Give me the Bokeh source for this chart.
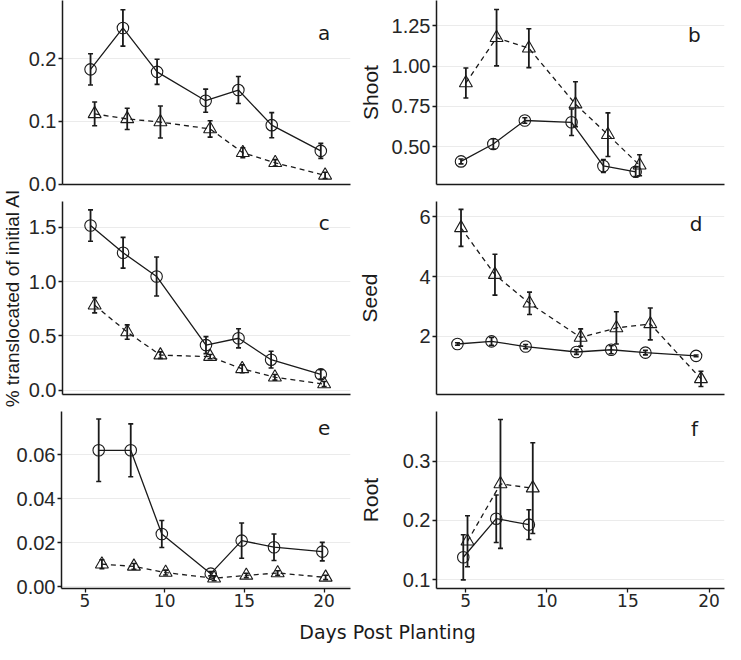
from bokeh.plotting import figure
from bokeh.layouts import column, row
from bokeh.models import Range1d, FixedTicker, Label
from bokeh.embed import file_html
from bokeh.resources import INLINE
from bokeh.core.properties import value

# ---------------- data ----------------
# panel a
a_circle_day = [5.29, 7.33, 9.48, 12.54, 14.60, 16.70, 19.79]
a_circle_val = [0.183, 0.249, 0.179, 0.133, 0.150, 0.094, 0.053]
a_circle_se = [0.025, 0.029, 0.020, 0.0185, 0.0215, 0.020, 0.012]
a_tri_day = [5.55, 7.60, 9.69, 12.82, 14.88, 16.92, 20.06]
a_tri_val = [0.112, 0.104, 0.099, 0.088, 0.050, 0.034, 0.014]
a_tri_se = [0.019, 0.017, 0.0255, 0.013, 0.008, 0.005, 0.005]

# panel b (Shoot)
b_circle_day = [4.72, 6.71, 8.65, 11.53, 13.49, 15.48]
b_circle_val = [0.410, 0.518, 0.663, 0.652, 0.382, 0.346]
b_circle_se = [0.015, 0.032, 0.017, 0.082, 0.040, 0.030]
b_tri_day = [5.02, 6.91, 8.90, 11.77, 13.77, 15.72]
b_tri_val = [0.895, 1.175, 1.110, 0.764, 0.575, 0.386]
b_tri_se = [0.093, 0.174, 0.120, 0.139, 0.135, 0.065]

# panel c
c_circle_day = [5.29, 7.34, 9.45, 12.56, 14.61, 16.66, 19.79]
c_circle_val = [1.515, 1.265, 1.047, 0.416, 0.479, 0.282, 0.147]
c_circle_se = [0.144, 0.141, 0.179, 0.078, 0.088, 0.077, 0.044]
c_tri_day = [5.55, 7.60, 9.69, 12.82, 14.84, 16.90, 20.00]
c_tri_val = [0.782, 0.536, 0.324, 0.310, 0.198, 0.120, 0.058]
c_tri_se = [0.070, 0.066, 0.030, 0.020, 0.036, 0.026, 0.023]

# panel d (Seed)
d_circle_day = [4.50, 6.60, 8.70, 11.83, 13.97, 16.08, 19.20]
d_circle_val = [1.743, 1.830, 1.657, 1.474, 1.550, 1.453, 1.346]
d_circle_se = [0.040, 0.130, 0.070, 0.080, 0.135, 0.075, 0.030]
d_tri_day = [4.72, 6.81, 8.94, 12.09, 14.29, 16.38, 19.50]
d_tri_val = [5.630, 4.065, 3.105, 1.960, 2.280, 2.415, 0.575]
d_tri_se = [0.620, 0.685, 0.375, 0.290, 0.540, 0.535, 0.255]

# panel e
e_circle_day = [5.86, 7.87, 9.82, 12.89, 14.83, 16.86, 19.89]
e_circle_val = [0.062, 0.062, 0.024, 0.006, 0.021, 0.018, 0.016]
e_circle_se = [0.0142, 0.012, 0.0061, 0.001, 0.008, 0.006, 0.0042]
e_tri_day = [6.06, 8.07, 10.06, 13.10, 15.12, 17.09, 20.10]
e_tri_val = [0.0103, 0.0093, 0.0065, 0.0039, 0.0052, 0.0063, 0.0043]
e_tri_se = [0.0020, 0.0013, 0.0011, 0.0011, 0.0010, 0.0010, 0.0010]

# panel f (Root)
f_circle_day = [4.86, 6.89, 8.90]
f_circle_val = [0.138, 0.203, 0.193]
f_circle_se = [0.038, 0.040, 0.025]
f_tri_day = [5.12, 7.15, 9.14]
f_tri_val = [0.165, 0.2615, 0.2545]
f_tri_se = [0.043, 0.1085, 0.0765]

# tick values / labels
x_ticks = [5, 10, 15, 20]
x_tick_labels = ["5", "10", "15", "20"]
a_ticks = [0.0, 0.1, 0.2]
a_tick_labels = ["0.0", "0.1", "0.2"]
b_ticks = [0.5, 0.75, 1.0, 1.25]
b_tick_labels = ["0.50", "0.75", "1.00", "1.25"]
c_ticks = [0.0, 0.5, 1.0, 1.5]
c_tick_labels = ["0.0", "0.5", "1.0", "1.5"]
d_ticks = [2, 4, 6]
d_tick_labels = ["2", "4", "6"]
e_ticks = [0.0, 0.02, 0.04, 0.06]
e_tick_labels = ["0.00", "0.02", "0.04", "0.06"]
f_ticks = [0.1, 0.2, 0.3]
f_tick_labels = ["0.1", "0.2", "0.3"]

row_titles = ["Shoot", "Seed", "Root"]
y_title = "% translocated of initial AI"
x_title = "Days Post Planting"

# ---------------- layout / styling ----------------
INK = "#1a1a1a"
LEFT_X = (3.525, 21.66)
RIGHT_X = (3.21, 20.95)
TITLE_W = 25

# (width, height, border_left, border_right, border_top, border_bottom)
SPEC = {
    "a": (330, 196, 36, 5, 0, 12),
    "c": (330, 214, 36, 5, 5, 16),
    "e": (355, 204, 61, 5, 1, 26),
    "b": (370, 193, 79, 1, 0, 9),
    "d": (370, 211, 79, 1, 8, 10),
    "f": (370, 210, 79, 1, 7, 26),
}

PANELS = {
    "a": dict(c=(a_circle_day, a_circle_val, a_circle_se), t=(a_tri_day, a_tri_val, a_tri_se),
              yr=(-0.0006, 0.2928), ticks=a_ticks, tl=a_tick_labels, lab=(20.0, 0.2405),
              title=None, stand=0, bottom=False, xr=LEFT_X),
    "b": dict(c=(b_circle_day, b_circle_val, b_circle_se), t=(b_tri_day, b_tri_val, b_tri_se),
              yr=(0.2673, 1.405), ticks=b_ticks, tl=b_tick_labels, lab=(19.1, 1.19),
              title=row_titles[0], stand=7, bottom=False, xr=RIGHT_X),
    "c": dict(c=(c_circle_day, c_circle_val, c_circle_se), t=(c_tri_day, c_tri_val, c_tri_se),
              yr=(-0.038, 1.736), ticks=c_ticks, tl=c_tick_labels, lab=(20.0, 1.538),
              title=None, stand=0, bottom=False, xr=LEFT_X),
    "d": dict(c=(d_circle_day, d_circle_val, d_circle_se), t=(d_tri_day, d_tri_val, d_tri_se),
              yr=(0.0514, 6.514), ticks=d_ticks, tl=d_tick_labels, lab=(19.2, 5.76),
              title=row_titles[1], stand=35, bottom=False, xr=RIGHT_X),
    "e": dict(c=(e_circle_day, e_circle_val, e_circle_se), t=(e_tri_day, e_tri_val, e_tri_se),
              yr=(-0.00074, 0.0796), ticks=e_ticks, tl=e_tick_labels, lab=(20.0, 0.072),
              title=None, stand=0, bottom=True, xr=LEFT_X),
    "f": dict(c=(f_circle_day, f_circle_val, f_circle_se), t=(f_tri_day, f_tri_val, f_tri_se),
              yr=(0.0854, 0.3836), ticks=f_ticks, tl=f_tick_labels, lab=(19.1, 0.354),
              title=row_titles[2], stand=18, bottom=True, xr=RIGHT_X),
}


def add_series(p, days, vals, ses, marker, dash):
    lo = [v - s for v, s in zip(vals, ses)]
    hi = [v + s for v, s in zip(vals, ses)]
    p.line(days, vals, line_color=INK, line_width=1.3, line_dash=dash)
    p.segment(x0=days, y0=lo, x1=days, y1=hi, line_color=INK, line_width=1.8)
    p.scatter(days, lo, marker="dash", size=5, line_color=INK, line_width=1.6)
    p.scatter(days, hi, marker="dash", size=5, line_color=INK, line_width=1.6)
    if marker == "circle":
        p.scatter(days, vals, marker="circle", size=11.5, line_color=INK,
                  line_width=1.1, fill_alpha=0)
    else:
        p.scatter(days, vals, marker="triangle", size=13, line_color=INK,
                  line_width=1.1, fill_alpha=0)


def make_panel(key):
    cfg = PANELS[key]
    w, h, bl, br, bt, bb = SPEC[key]
    p = figure(width=w, height=h, title=None,
               x_range=Range1d(*cfg["xr"]), y_range=Range1d(*cfg["yr"]),
               toolbar_location=None, output_backend="svg",
               min_border_left=bl, min_border_right=br,
               min_border_top=bt, min_border_bottom=bb)
    p.outline_line_color = None
    p.xgrid.grid_line_color = None
    p.ygrid.grid_line_color = "#ebebeb"
    p.ygrid.grid_line_width = 1
    p.ygrid.ticker = FixedTicker(ticks=cfg["ticks"])

    yax = p.yaxis[0]
    yax.ticker = FixedTicker(ticks=cfg["ticks"])
    yax.major_label_overrides = {t: s for t, s in zip(cfg["ticks"], cfg["tl"])}
    yax.axis_line_color = INK
    yax.axis_line_width = 1.5
    yax.major_tick_line_color = INK
    yax.major_tick_line_width = 1.3
    yax.major_tick_out = 4
    yax.major_tick_in = 0
    yax.minor_tick_line_color = None
    yax.major_label_standoff = 2
    yax.major_label_text_font = "Liberation Sans"
    yax.major_label_text_font_size = "20px"
    yax.major_label_text_color = "#262626"
    if cfg["title"]:
        yax.axis_label = cfg["title"]
        yax.axis_label_text_font = "Liberation Sans"
        yax.axis_label_text_font_size = "21px"
        yax.axis_label_text_font_style = "normal"
        yax.axis_label_text_color = "#1a1a1a"
        yax.axis_label_standoff = cfg["stand"]

    xax = p.xaxis[0]
    xax.axis_line_color = INK
    xax.axis_line_width = 1.5
    xax.minor_tick_line_color = None
    if cfg["bottom"]:
        xax.ticker = FixedTicker(ticks=x_ticks)
        xax.major_label_overrides = {t: s for t, s in zip(x_ticks, x_tick_labels)}
        xax.major_tick_line_color = INK
        xax.major_tick_line_width = 1.3
        xax.major_tick_out = 4
        xax.major_tick_in = 0
        xax.major_label_standoff = 1
        xax.major_label_text_font = "DejaVu Sans"
        xax.major_label_text_font_size = "17px"
        xax.major_label_text_color = "#262626"
    else:
        xax.ticker = FixedTicker(ticks=[])
        xax.major_tick_out = 0
        xax.major_tick_in = 0
        xax.major_label_standoff = 0

    add_series(p, *cfg["t"], marker="triangle", dash="5 4")
    add_series(p, *cfg["c"], marker="circle", dash="solid")

    lx, ly = cfg["lab"]
    p.text(x=[lx], y=[ly], text=[key], text_align="center", text_baseline="alphabetic",
           text_font=value("DejaVu Sans"), text_font_size="20px", text_color=INK)
    return p


def blank(w, h):
    f = figure(width=w, height=h, title=None, x_range=Range1d(0, w), y_range=Range1d(0, h),
               x_axis_type=None, y_axis_type=None, toolbar_location=None,
               output_backend="svg", min_border=0)
    f.outline_line_color = None
    f.grid.visible = False
    return f


pa, pb, pc, pd, pe, pf = (make_panel(k) for k in ["a", "b", "c", "d", "e", "f"])

# y title beside panels a and c
title_h = SPEC["a"][1] + SPEC["c"][1]
ytf = blank(TITLE_W, title_h)
ytf.add_layout(Label(x=11.7, y=title_h - 297.5, text=y_title, angle=1.5707963267948966,
                     text_align="center", text_baseline="middle",
                     text_font="Liberation Sans", text_font_size="19px", text_color="#1a1a1a"))

left_block = column(row(ytf, column(pa, pc, spacing=0), spacing=0), pe, spacing=0)
right_col = column(pb, pd, pf, spacing=0)

lab = blank(725, 30)
lab.add_layout(Label(x=387, y=13, text=x_title, text_align="center", text_baseline="alphabetic",
                     text_font="DejaVu Sans", text_font_size="19px", text_color="#1a1a1a"))

layout = column(row(left_block, right_col, spacing=0), lab, spacing=0)
open("out.html", "w").write(file_html(layout, INLINE))
